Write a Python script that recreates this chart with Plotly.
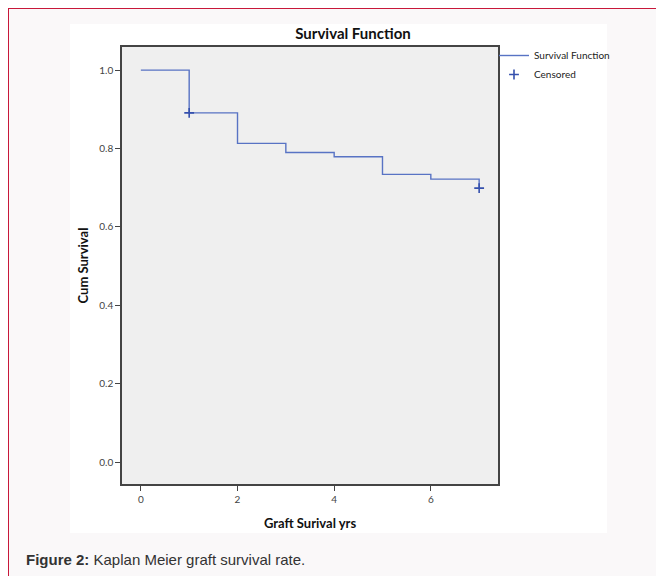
import plotly.graph_objects as go

# Data
times = [0, 1, 2, 3, 4, 5, 6, 7]
survival = [1.0, 0.891, 0.813, 0.790, 0.779, 0.734, 0.722, 0.699]
censored_times = [1, 7]
censored_surv = [0.891, 0.699]
x_ticks = [0, 2, 4, 6]
y_ticks = [0.0, 0.2, 0.4, 0.6, 0.8, 1.0]

OFF = 8  # page body margin: figure is drawn 8px in from the window corner
W, H = 664 - OFF, 576 - OFF
# plot area box in screen pixels
SL, SR, ST, SB = 122, 498, 47, 484
L, R, T, B = SL - OFF, SR - OFF, ST - OFF, SB - OFF


def px(x):  # screen x -> paper
    return (x - OFF - L) / (R - L)


def py(y):  # screen y -> paper
    return (B - (y - OFF)) / (B - T)


LINE = "#5873c4"
MARK = "#3550ad"
FONT = "Lato, Open Sans, sans-serif"

fig = go.Figure()
fig.add_trace(go.Scatter(
    x=times, y=survival, mode="lines", line=dict(shape="hv", color=LINE, width=1.4),
    name="Survival Function"))
fig.add_trace(go.Scatter(
    x=censored_times, y=censored_surv, mode="markers",
    marker=dict(symbol="cross-thin", size=7, line=dict(color=MARK, width=1.6)),
    name="Censored"))

shapes = [
    # page background with crimson border
    dict(type="rect", xref="paper", yref="paper", x0=px(8), x1=px(720), y0=py(8), y1=py(640),
         fillcolor="#faf8f9", line=dict(color="#c8173a", width=2), layer="below"),
    # white chart panel
    dict(type="rect", xref="paper", yref="paper", x0=px(70), x1=px(607), y0=py(24), y1=py(533),
         fillcolor="#ffffff", line=dict(width=0), layer="below"),
    # grey plot area
    dict(type="rect", xref="paper", yref="paper", x0=0, x1=1, y0=0, y1=1,
         fillcolor="#efefef", line=dict(width=0), layer="below"),
]

fig.update_layout(
    template="none",
    width=W, height=H,
    margin=dict(l=L, r=W - R, t=T, b=H - B, autoexpand=False),
    paper_bgcolor="#ffffff",
    plot_bgcolor="#efefef",
    shapes=shapes,
    font=dict(family=FONT, color="#222"),
    title=dict(text="<b>Survival Function</b>", x=px(353), xref="paper", xanchor="center",
               y=1 - (34 - OFF) / H, yanchor="middle", font=dict(size=15, family=FONT, color="#111")),
    legend=dict(x=px(494), y=py(41), xanchor="left", yanchor="top", bgcolor="rgba(0,0,0,0)",
                font=dict(size=10, family=FONT, color="#222"), tracegroupgap=0,
                itemwidth=30),
    showlegend=True,
    annotations=[
        dict(text="<b>Figure 2:</b> Kaplan Meier graft survival rate.", xref="paper", yref="paper",
             x=px(24), y=py(559), xanchor="left", yanchor="middle", showarrow=False,
             font=dict(size=15, family="Liberation Sans, Arial, sans-serif", color="#333")),
    ],
)

fig.update_xaxes(
    automargin=False,
    range=[-0.39, 7.39], tickvals=x_ticks, ticktext=[str(v) for v in x_ticks],
    showgrid=False, zeroline=False, showline=True, mirror=True, linecolor="#444", linewidth=1.5,
    ticks="outside", ticklen=5, tickcolor="#444", tickwidth=1.3,
    tickfont=dict(size=10, color="#444"),
    title=dict(text="<b>Graft Surival yrs</b>", font=dict(size=13, family=FONT, color="#111"), standoff=15),
)
fig.update_yaxes(
    automargin=False,
    range=[-0.056, 1.059], tickvals=y_ticks, ticktext=[f"{v:.1f}" for v in y_ticks],
    showgrid=False, zeroline=False, showline=True, mirror=True, linecolor="#444", linewidth=1.5,
    ticks="outside", ticklen=5, tickcolor="#444", tickwidth=1.3,
    tickfont=dict(size=10, color="#444"),
    title=dict(text="<b>Cum Survival</b>", font=dict(size=13, family=FONT, color="#111"), standoff=8),
)

fig.write_html("out.html")
